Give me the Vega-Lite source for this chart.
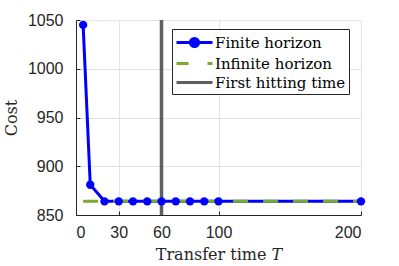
{
  "$schema": "https://vega.github.io/schema/vega-lite/v6.json",
  "autosize": {"type": "none"},
  "width": 285,
  "height": 195,
  "padding": {"left": 76, "top": 20, "right": 38, "bottom": 51},
  "background": "white",
  "config": {
    "view": {"stroke": null},
    "axis": {
      "labelFont": "Liberation Sans",
      "labelFontSize": 16,
      "labelColor": "#262626",
      "titleFont": "DejaVu Serif",
      "titleFontSize": 16,
      "titleFontWeight": "normal",
      "titleColor": "#262626",
      "domainColor": "#262626",
      "domainWidth": 1,
      "tickColor": "#262626",
      "tickSize": -4,
      "gridColor": "#e3e3e3",
      "gridWidth": 1
    }
  },
  "datasets": {
    "finite": [
      {"T": 5, "cost": 1045, "series": "Finite horizon"},
      {"T": 10, "cost": 881, "series": "Finite horizon"},
      {"T": 20, "cost": 864, "series": "Finite horizon"},
      {"T": 30, "cost": 864, "series": "Finite horizon"},
      {"T": 40, "cost": 864, "series": "Finite horizon"},
      {"T": 50, "cost": 864, "series": "Finite horizon"},
      {"T": 60, "cost": 864, "series": "Finite horizon"},
      {"T": 70, "cost": 864, "series": "Finite horizon"},
      {"T": 80, "cost": 864, "series": "Finite horizon"},
      {"T": 90, "cost": 864, "series": "Finite horizon"},
      {"T": 100, "cost": 864, "series": "Finite horizon"},
      {"T": 200, "cost": 864, "series": "Finite horizon"}
    ],
    "infinite": [
      {"T": 5, "cost": 864, "series": "Infinite horizon"},
      {"T": 200, "cost": 864, "series": "Infinite horizon"}
    ],
    "hitting": [
      {"T": 60, "series": "First hitting time"}
    ]
  },
  "encoding": {
    "x": {
      "field": "T", "type": "quantitative",
      "scale": {"domain": [0, 200], "nice": false, "zero": false},
      "axis": {"values": [0, 30, 60, 100, 200], "format": "d", "title": "Transfer time 𝑇", "labelPadding": 13, "titlePadding": 6}
    },
    "color": {
      "field": "series", "type": "nominal",
      "scale": {
        "domain": ["Finite horizon", "Infinite horizon", "First hitting time"],
        "range": ["#0000ff", "#77ac30", "#5f5f5f"]
      },
      "legend": {
        "title": null,
        "orient": "none",
        "legendX": 96,
        "legendY": 9,
        "padding": 3,
        "fillColor": "white",
        "strokeColor": "#262626",
        "labelFont": "DejaVu Serif",
        "labelFontSize": 15,
        "labelColor": "#000000",
        "labelLimit": 300,
        "labelOffset": 10,
        "symbolOffset": 9,
        "symbolSize": 324,
        "symbolStrokeWidth": 3,
        "rowPadding": 0,
        "encode": {
          "symbols": {
            "update": {
              "shape": {"signal": "datum.value === 'Finite horizon' ? 'M-2,0H2M-0.45,0A0.45,0.45,0,1,1,0.45,0A0.45,0.45,0,1,1,-0.45,0' : 'M-2,0H2'"},
              "fill": {"signal": "datum.value === 'Finite horizon' ? '#0000ff' : 'transparent'"},
              "strokeDash": {"signal": "datum.value === 'Infinite horizon' ? [12, 19] : []"},
              "opacity": {"value": 1}
            }
          }
        }
      }
    }
  },
  "layer": [
    {
      "data": {"name": "hitting"},
      "mark": {"type": "rule", "strokeWidth": 3.5},
      "encoding": {}
    },
    {
      "data": {"name": "finite"},
      "mark": {"type": "line", "strokeWidth": 3},
      "encoding": {
        "y": {
          "field": "cost", "type": "quantitative",
          "scale": {"domain": [850, 1050], "nice": false, "zero": false},
          "axis": {"values": [850, 900, 950, 1000, 1050], "format": "d", "title": "Cost", "labelPadding": 17, "titlePadding": 8}
        }
      }
    },
    {
      "data": {"name": "infinite"},
      "mark": {"type": "line", "strokeWidth": 3, "strokeDash": [15, 15]},
      "encoding": {"y": {"field": "cost", "type": "quantitative"}}
    },
    {
      "data": {"name": "finite"},
      "mark": {"type": "point", "filled": true, "shape": "circle", "size": 70, "opacity": 1},
      "encoding": {"y": {"field": "cost", "type": "quantitative"}}
    }
  ]
}
